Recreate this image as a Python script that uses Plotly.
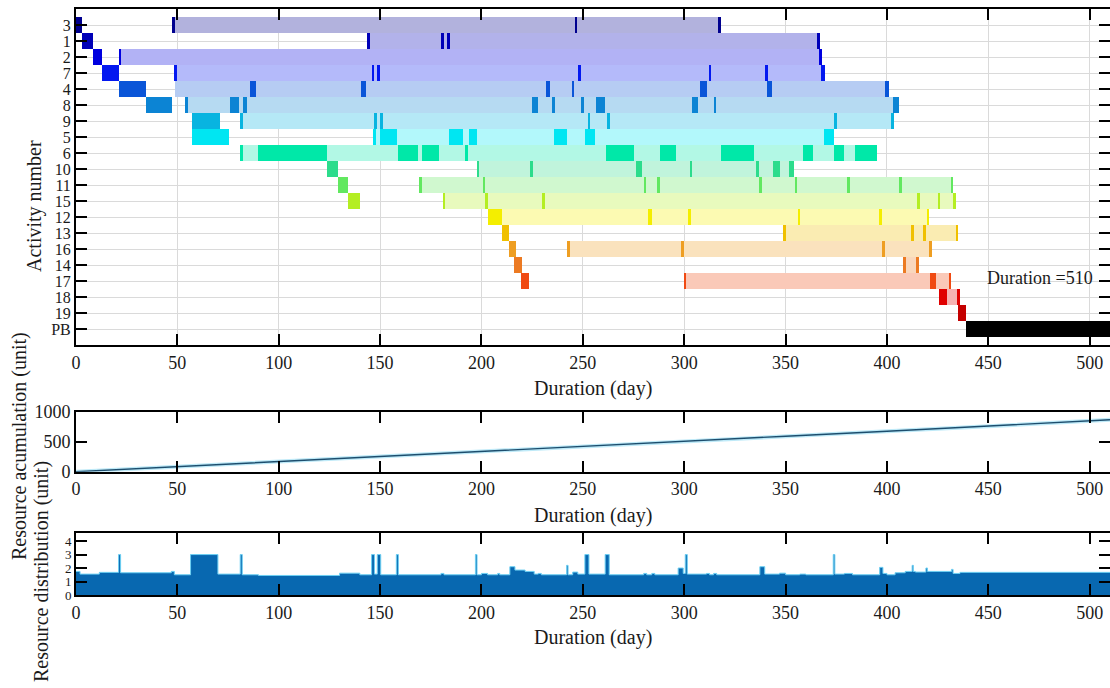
import plotly.graph_objects as go

# ---------------- data ----------------
rows = ['3', '1', '2', '7', '4', '8', '9', '5', '6', '10', '11', '15', '12', '13',
        '16', '14', '17', '18', '19', 'PB']
row_colors = ['#00008F', '#0000B8', '#0000DF', '#0418F0', '#0A55D8', '#0C84D4',
              '#08B4E0', '#00E6F2', '#00E8A8', '#2CDC8C', '#62E860', '#B4EE22',
              '#F4EE00', '#F0C000', '#EE9E22', '#EC7A22', '#F04A12', '#E00000',
              '#C40000', '#000000']

main_start = [0, 3, 8.5, 13, 21, 34.5, 57, 57, 90, 124, 129, 134, 203, 210, 213.5,
              216, 219.5, 425.5, 435, 439]
main_end = [3, 8.5, 13, 21, 34.5, 47.5, 71, 75.5, 124, 129, 134, 140, 210, 213.5,
            217, 220, 223.5, 429.5, 439, 510]

float_start = [47.4, 143.5, 21, 48.3, 49, 53.7, 81, 146.6, 81, 197.6, 169.3, 180.8,
               210, 348.7, 242.3, 409, 299.8, 429.5, None, None]
float_end = [316.6, 366, 367, 369.5, 400.5, 405, 402, 373, 395, 354, 432.5, 433,
             419.6, 433.8, 420.8, 414.5, 430.5, 434.5, None, None]

thin_marks = {
    '3': [47.4, 246, 316.6],
    '1': [143.5, 180, 183, 365.5],
    '2': [21, 366.5],
    '7': [48.3, 145.8, 148.6, 247.6, 312, 340],
    '4': [244.4],
    '8': [54, 235, 314.6],
    '9': [81, 147, 150, 252.3, 262, 374, 402],
    '5': [146.6],
    '6': [81, 192],
    '10': [197.6, 224, 302.7, 335.6],
    '11': [169.3, 200.5, 280, 286.8, 337, 354.5, 406, 431.5],
    '15': [180.8, 201.7, 230, 415, 425, 432.5],
    '12': [302, 356, 396, 419.6],
    '13': [348.7, 412, 418, 433.8],
    '16': [242.3, 298.6, 397.7, 420.8],
    '14': [414.5],
    '17': [299.8, 430.5],
    '18': [434.5],
}
block_marks = {
    '7': [(367.5, 369.5)],
    '4': [(86, 89), (140.5, 143), (231.6, 234), (308, 311), (341, 343.5), (399, 401)],
    '8': [(76, 80.5), (82.5, 84.5), (225, 228), (249, 250.6), (256.4, 261),
          (304, 306.7), (403, 406)],
    '5': [(150, 158.5), (184, 191), (194, 198), (236, 242), (251, 256), (369, 374)],
    '6': [(159, 168.6), (170.5, 179), (261.6, 275), (288, 296), (318, 334.3),
          (358.5, 363.5), (374, 379), (384, 395)],
    '10': [(276, 279), (344, 347), (351.6, 354)],
    '11': [(380.5, 382)],
    '12': [(282, 284)],
    '14': [(408, 409.6)],
    '17': [(421, 424)],
}

acc_day = [0, 50, 70, 100, 150, 200, 250, 300, 350, 400, 450, 510]
acc_val = [0, 85, 125, 175, 262, 345, 428, 510, 590, 672, 755, 862]

dist_day = [0, 2, 11.5, 21, 22, 47, 48.5, 56.5, 70, 81, 82, 90, 130, 140, 145.8, 147.2,
            148.6, 150.3, 158, 159, 180, 181.5, 197, 197.8, 200, 203, 208, 209, 214,
            216.5, 221.5, 226, 228, 229.5, 242, 242.7, 245, 247.5, 251, 253, 261, 263,
            280, 281.5, 284, 285.5, 297, 299.5, 300.5, 301.5, 311, 312.5, 314.5, 316,
            337.3, 339.7, 347, 350, 357, 360, 373.5, 374.3, 379, 383, 396.4, 398, 400,
            404, 409, 412.4, 413, 414, 419.2, 420, 431.8, 432.6, 436, 510]
dist_val = [1.75, 1.55, 1.68, 3.0, 1.65, 1.75, 1.5, 3.0, 1.55, 3.0, 1.5, 1.45, 1.62, 1.5,
            3.0, 1.55, 3.0, 1.5, 3.0, 1.5, 1.6, 1.5, 3.0, 1.5, 1.6, 1.5, 1.6, 1.5, 2.1,
            1.85, 1.75, 1.55, 1.6, 1.5, 2.2, 1.5, 1.7, 1.55, 3.0, 1.55, 3.0, 1.5,
            1.6, 1.5, 1.6, 1.5, 2.0, 1.6, 3.0, 1.55, 1.6, 1.5, 1.6, 1.5,
            2.1, 1.55, 1.62, 1.5, 1.55, 1.5, 3.0, 1.55, 1.6, 1.5, 2.05, 1.6, 1.5,
            1.65, 1.75, 2.2, 1.75, 1.7, 2.0, 1.75, 1.9, 1.6, 1.68, 1.68]

x_ticks = [0, 50, 100, 150, 200, 250, 300, 350, 400, 450, 500]

# ---------------- helpers ----------------
FONT = 'Liberation Serif'
TXT = '#1a1a1a'
TICK_W = 1.3


def blend(hexc, a):
    h = hexc.lstrip('#')
    r, g, b = int(h[0:2], 16), int(h[2:4], 16), int(h[4:6], 16)
    r = round(255 * (1 - a) + r * a)
    g = round(255 * (1 - a) + g * a)
    b = round(255 * (1 - a) + b * a)
    return f'rgb({r},{g},{b})'


pos = {r: i + 1 for i, r in enumerate(rows)}
col = {r: c for r, c in zip(rows, row_colors)}

fig = go.Figure()

# floats
fy, fb, fx, fc = [], [], [], []
for r, s, e in zip(rows, float_start, float_end):
    if s is None:
        continue
    fy.append(pos[r]); fb.append(s); fx.append(e - s); fc.append(blend(col[r], 0.3))
fig.add_trace(go.Bar(orientation='h', y=fy, base=fb, x=fx, width=1.0,
                     marker=dict(color=fc, line=dict(width=0)),
                     xaxis='x', yaxis='y', hoverinfo='skip', showlegend=False))

# block marks
by, bb, bx, bc = [], [], [], []
for r, lst in block_marks.items():
    for s, e in lst:
        by.append(pos[r]); bb.append(s); bx.append(e - s); bc.append(col[r])
fig.add_trace(go.Bar(orientation='h', y=by, base=bb, x=bx, width=0.96,
                     marker=dict(color=bc, line=dict(width=0)),
                     xaxis='x', yaxis='y', hoverinfo='skip', showlegend=False))

# thin marks
ty, tb, tx, tc = [], [], [], []
for r, lst in thin_marks.items():
    for s in lst:
        ty.append(pos[r]); tb.append(s); tx.append(TICK_W); tc.append(col[r])
fig.add_trace(go.Bar(orientation='h', y=ty, base=tb, x=tx, width=0.96,
                     marker=dict(color=tc, line=dict(width=0)),
                     xaxis='x', yaxis='y', hoverinfo='skip', showlegend=False))

# main schedule blocks
my = [pos[r] for r in rows]
mb = main_start
mx = [e - s for s, e in zip(main_start, main_end)]
fig.add_trace(go.Bar(orientation='h', y=my, base=mb, x=mx, width=1.0,
                     marker=dict(color=row_colors, line=dict(width=0)),
                     xaxis='x', yaxis='y', hoverinfo='skip', showlegend=False))

# accumulation
fig.add_trace(go.Scatter(x=acc_day, y=acc_val, mode='lines',
                         line=dict(color='#BFEAF8', width=4),
                         xaxis='x2', yaxis='y2', hoverinfo='skip', showlegend=False))
fig.add_trace(go.Scatter(x=acc_day, y=acc_val, mode='lines',
                         line=dict(color='#1D4E6E', width=1.4),
                         xaxis='x2', yaxis='y2', hoverinfo='skip', showlegend=False))

# distribution
fig.add_trace(go.Scatter(x=dist_day, y=dist_val, mode='lines', line_shape='hv',
                         fill='tozeroy', fillcolor='#0868B0',
                         line=dict(color='#6CCFF2', width=1),
                         xaxis='x3', yaxis='y3', hoverinfo='skip', showlegend=False))

H = 688.0


def dom(top_px, bot_px):
    return [1 - bot_px / H, 1 - top_px / H]


axis_base = dict(showline=True, linecolor='black', linewidth=2, mirror='ticks',
                 ticks='inside', tickwidth=2, tickcolor='black', zeroline=False)
tf18 = dict(family=FONT, size=18, color=TXT)
tf16 = dict(family=FONT, size=16, color=TXT)
tf13 = dict(family=FONT, size=13, color=TXT)

xcommon = dict(range=[0, 510], tickvals=x_ticks, ticklen=11, tickfont=tf18, **axis_base)

fig.update_layout(
    width=1110, height=688,
    margin=dict(l=76, r=0, t=0, b=0, autoexpand=False),
    paper_bgcolor='white', plot_bgcolor='white',
    barmode='overlay', bargap=0,
    font=dict(family=FONT, color=TXT),
    xaxis=dict(domain=[0, 1], anchor='y', showgrid=True, gridcolor='#DADADA',
               gridwidth=1, **xcommon),
    yaxis=dict(domain=dom(9, 345), anchor='x', range=[21, 0], tickvals=list(range(1, 21)),
               ticktext=rows, ticklen=11, showgrid=True, gridcolor='#DADADA', gridwidth=1,
               tickfont=tf16, **axis_base),
    xaxis2=dict(domain=[0, 1], anchor='y2', showgrid=False, **xcommon),
    yaxis2=dict(domain=dom(411.5, 471.7), anchor='x2', range=[0, 1000],
                tickvals=[0, 500, 1000], ticklen=11, showgrid=False, tickfont=tf18,
                **axis_base),
    xaxis3=dict(domain=[0, 1], anchor='y3', showgrid=False, **xcommon),
    yaxis3=dict(domain=dom(533, 595), anchor='x3', range=[0, 4.6],
                tickvals=[0, 1, 2, 3, 4], ticklen=11, showgrid=False, tickfont=tf13,
                **axis_base),
)


def px_x(px):
    return (px - 76) / 1034.0


def px_y(py):
    return 1 - py / H


ann = []
for text, x, y, ang, size in [
    ('Activity number', 35, 206, -90, 20),
    ('Resource acumulation (unit)', 19, 446, -90, 20),
    ('Resource distribution (unit)', 41, 572, -90, 20),
    ('Duration (day)', 593, 388, 0, 20),
    ('Duration (day)', 593, 515, 0, 20),
    ('Duration (day)', 593, 637, 0, 20),
    ('Duration =510', 1040, 278, 0, 18),
]:
    ann.append(dict(text=text, x=px_x(x), y=px_y(y), xref='paper', yref='paper',
                    xanchor='center', yanchor='middle', textangle=ang, showarrow=False,
                    font=dict(family=FONT, size=size, color=TXT)))
fig.update_layout(annotations=ann)

fig.write_html('out.html')
